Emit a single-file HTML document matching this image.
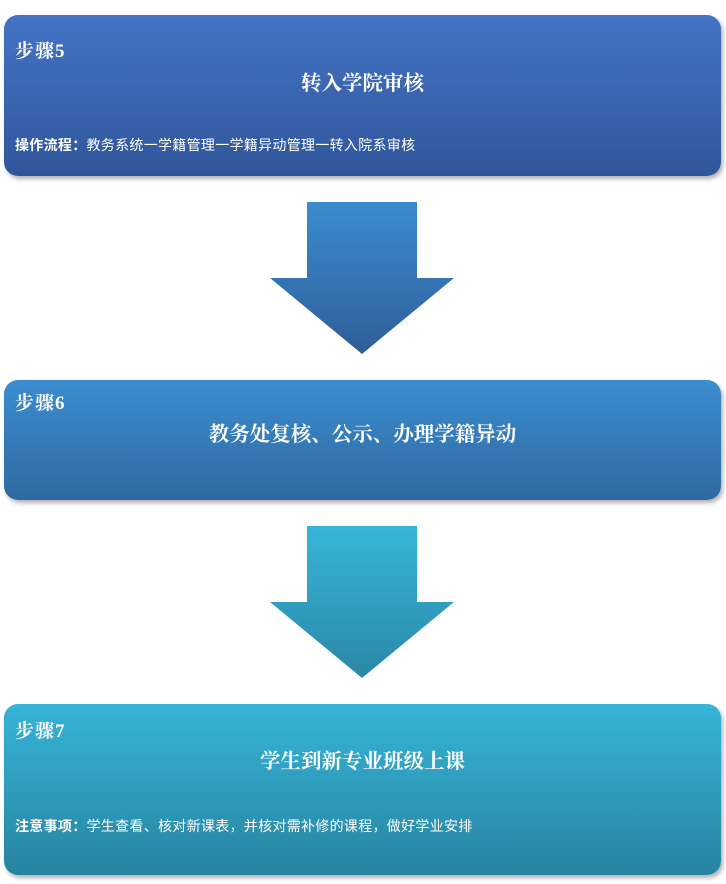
<!DOCTYPE html>
<html><head><meta charset="utf-8"><style>
body{margin:0;width:726px;height:884px;background:#fff;position:relative;font-family:"Liberation Serif","Noto Serif CJK SC",serif;color:#fff;overflow:hidden}
.box{position:absolute;left:4px;width:717px;border-radius:14px;box-shadow:2px 3px 4px rgba(0,0,0,0.3)}
.s{position:absolute;left:11px;font-size:19px;font-weight:bold;letter-spacing:1px}
.t{position:absolute;left:0;right:0;text-align:center;font-size:20.5px;font-weight:bold}
.n{position:absolute;left:11px;font-size:14px;letter-spacing:0.3px;font-family:"Liberation Sans","Noto Sans CJK SC",sans-serif}
</style></head><body>
<div class="box" style="top:15px;height:161px;background:linear-gradient(#4474c6,#30569a)">
<div class="s" style="top:21px">步骤5</div>
<div class="t" style="top:51px">转入学院审核</div>
<div class="n" style="top:120px"><b>操作流程：</b>教务系统一学籍管理一学籍异动管理一转入院系审核</div>
</div>
<svg style="position:absolute;left:0;top:0" width="726" height="884">
<defs>
<linearGradient id="a1" x1="0" y1="0" x2="0" y2="1"><stop offset="0" stop-color="#3b8ccf"/><stop offset="1" stop-color="#2f5e99"/></linearGradient>
<linearGradient id="a2" x1="0" y1="0" x2="0" y2="1"><stop offset="0" stop-color="#38b5d9"/><stop offset="1" stop-color="#2a88a6"/></linearGradient>
</defs>
<polygon points="307,202 417,202 417,278 454,278 362,354 270,278 307,278" fill="url(#a1)"/>
<polygon points="307,526 417,526 417,602 454,602 362,678 270,602 307,602" fill="url(#a2)"/>
</svg>
<div class="box" style="top:380px;height:120px;background:linear-gradient(#3b8dcf,#2f69a2)">
<div class="s" style="top:8px">步骤6</div>
<div class="t" style="top:37px">教务处复核、公示、办理学籍异动</div>
</div>
<div class="box" style="top:704px;height:171px;background:linear-gradient(#36b4d8,#2784a0)">
<div class="s" style="top:12px">步骤7</div>
<div class="t" style="top:40px">学生到新专业班级上课</div>
<div class="n" style="top:112px"><b>注意事项：</b>学生查看、核对新课表，并核对需补修的课程，做好学业安排</div>
</div>
</body></html>
